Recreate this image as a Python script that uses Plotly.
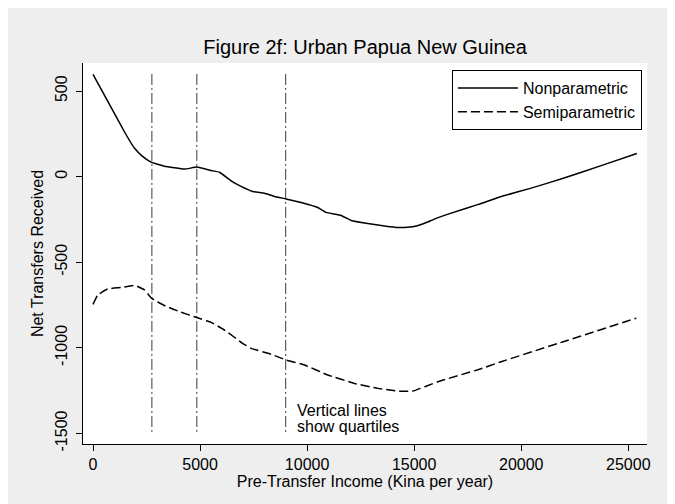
import plotly.graph_objects as go

# ---- data ----
income_np = [0, 500, 1075, 1500, 1934, 2300, 2710, 3336, 4271, 4860, 5514, 5906,
             6449, 6916, 7463, 8009, 8477, 9019, 9720, 10500, 10888, 11589, 12056,
             12836, 13617, 14238, 14706, 15100, 15486, 16000, 16729, 18000, 19065,
             20467, 22000, 23700, 25400]
transfers_np = [597, 483, 352, 255, 167, 120, 85, 61, 44, 56, 36, 26,
                -24, -57, -87, -97, -116, -130, -151, -180, -209, -227, -256,
                -274, -288, -297, -295, -288, -272, -245, -213, -162, -116,
                -67, -8, 63, 135]

income_sp = [0, 220, 687, 1308, 1963, 2402, 2743, 3336, 4112, 4846, 5514, 6140,
             7000, 7383, 8318, 9019, 9879, 10967, 12215, 13304, 14238, 14939,
             16107, 17977, 19065, 22000, 25374]
transfers_sp = [-746, -691, -656, -648, -636, -662, -711, -753, -792, -823, -851, -896,
                -975, -1003, -1038, -1071, -1100, -1159, -1208, -1237, -1253, -1253,
                -1198, -1128, -1081, -963, -827]

quartiles = [2750, 4850, 9000]
quartile_span = [600, -1500]

x_ticks = [0, 5000, 10000, 15000, 20000, 25000]
y_ticks = [500, 0, -500, -1000, -1500]

FONT = "Arial, 'Liberation Sans', sans-serif"

fig = go.Figure()

for q in quartiles:
    fig.add_trace(go.Scatter(
        x=[q, q], y=quartile_span, mode="lines",
        line=dict(color="#3a3a3a", width=1, dash="11px,3px,2px,3px"),
        showlegend=False, hoverinfo="skip"))

fig.add_trace(go.Scatter(
    x=income_np, y=transfers_np, mode="lines", name="Nonparametric",
    line=dict(color="black", width=1.5, shape="spline", smoothing=0.3)))
fig.add_trace(go.Scatter(
    x=income_sp, y=transfers_sp, mode="lines", name="Semiparametric",
    line=dict(color="black", width=1.5, dash="9px,4px", shape="spline", smoothing=0.3)))

fig.add_annotation(x=quartiles[2], y=-1364, xref="x", yref="y", text="Vertical lines",
                   showarrow=False, xanchor="left", xshift=9, yanchor="middle",
                   font=dict(family=FONT, size=16, color="black"))
fig.add_annotation(x=quartiles[2], y=-1459, xref="x", yref="y", text="show quartiles",
                   showarrow=False, xanchor="left", xshift=9, yanchor="middle",
                   font=dict(family=FONT, size=16, color="black"))

fig.update_layout(
    width=675, height=504,
    margin=dict(l=75, r=36, t=55, b=68),
    paper_bgcolor="#EEEEEE",
    plot_bgcolor="white",
    font=dict(family=FONT, size=16, color="black"),
    title=dict(text="Figure 2f: Urban Papua New Guinea", x=0.5, xref="paper",
               y=1 - 39 / 504, yref="container", yanchor="middle", xanchor="center",
               font=dict(family=FONT, size=20, color="black")),
    showlegend=True,
    legend=dict(x=0.991, y=0.9816, xanchor="right", yanchor="top",
                bgcolor="white", bordercolor="black", borderwidth=1,
                itemwidth=60, font=dict(family=FONT, size=16, color="black")),
    xaxis=dict(range=[-467, 25874], tickvals=x_ticks,
               ticktext=[str(v) for v in x_ticks],
               showgrid=False, zeroline=False, showline=True, linecolor="black",
               linewidth=1, ticks="outside", ticklen=6, tickcolor="black",
               title=dict(text="Pre-Transfer Income (Kina per year)", standoff=2,
                          font=dict(family=FONT, size=16)),
               tickfont=dict(family=FONT, size=16)),
    yaxis=dict(range=[-1562, 664], tickvals=y_ticks,
               ticktext=[str(v) for v in y_ticks], tickangle=-90,
               ticklabelstandoff=3,
               showgrid=False, zeroline=False, showline=True, linecolor="black",
               linewidth=1, ticks="outside", ticklen=6, tickcolor="black",
               title=dict(text="Net Transfers Received", standoff=4,
                          font=dict(family=FONT, size=16)),
               tickfont=dict(family=FONT, size=16)),
)

fig.write_html("out.html")
